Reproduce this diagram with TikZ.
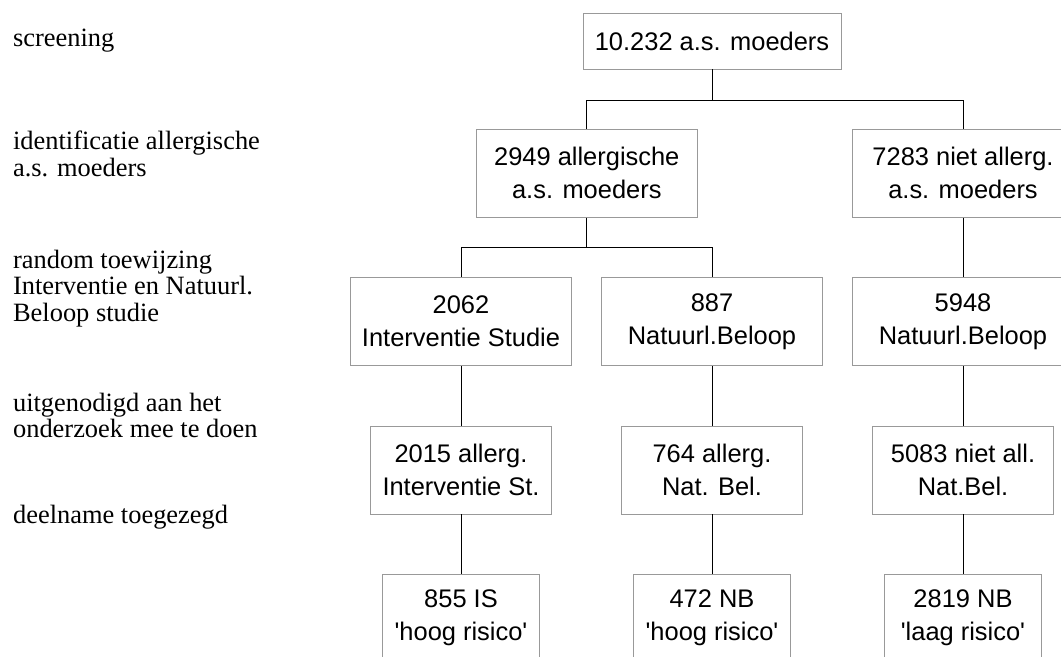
\documentclass[tikz,border=0pt]{standalone}
\usepackage{fontspec}
\setmainfont{Liberation Serif}
\newfontfamily\boxfont{Liberation Sans}
\usepackage{tikz}
\usetikzlibrary{positioning,calc}

\begin{document}
\begin{tikzpicture}[
    box/.style={rectangle, draw=black!40, line width=0.7pt, minimum height=2.2cm, align=center, font=\boxfont\fontsize{18.1}{23.4}\selectfont},
    wide/.style={box, minimum width=5.54cm},
    mid/.style={box, minimum width=4.525cm},
    small/.style={box, minimum width=3.925cm},
    stage/.style={anchor=base west, inner sep=0pt, align=left, font=\fontsize{18.8}{18.8}\selectfont},
    link/.style={line width=0.6pt}
]
\useasboundingbox (0,0) rectangle (26.525,-16.425);
\clip (0,0) rectangle (26.525,-16.425);

% Stages on the left (anchored at the last line)
\node[stage] (S1) at (0.32,-1.15) {screening};
\node[stage] (S2) at (0.32,-4.41) {identificatie allergische\\a.s. moeders};
\node[stage] (S3) at (0.32,-8.03) {random toewijzing\\Interventie en Natuurl.\\Beloop studie};
\node[stage] (S4) at (0.32,-10.94) {uitgenodigd aan het\\onderzoek mee te doen};
\node[stage] (S5) at (0.32,-13.075) {deelname toegezegd};

% Screening
\node[box, minimum width=6.45cm, minimum height=1.4cm] (MOE) at (17.8,-1.025) {10.232 a.s. moeders};

% Identification
\node[wide] (ALL) at (14.67,-4.33) {2949 allergische\\a.s. moeders};
\node[wide] (NAL) at (24.075,-4.33) {7283 niet allerg.\\a.s. moeders};

% Random allocation
\node[wide] (ISG) at (11.525,-8.04) {2062\\Interventie Studie};
\node[wide] (NBA) at (17.8,-8.04) {887\\Natuurl.Beloop};
\node[wide] (NBN) at (24.075,-8.04) {5948\\Natuurl.Beloop};

% Invited
\node[mid] (ISU) at (11.525,-11.75) {2015 allerg.\\Interventie St.};
\node[mid] (NBU) at (17.8,-11.75) {764 allerg.\\Nat. Bel.};
\node[mid] (NNU) at (24.075,-11.75) {5083 niet all.\\Nat.Bel.};

% Participation
\node[small] (ISD) at (11.525,-15.45) {855 IS\\'hoog risico'};
\node[small] (NBD) at (17.8,-15.45) {472 NB\\'hoog risico'};
\node[small] (NND) at (24.075,-15.45) {2819 NB\\'laag risico'};

% Connectors
\coordinate (B1) at (17.8,-2.5);
\coordinate (B2) at (14.67,-6.19);
\draw[link] (MOE) -- (B1) -| (ALL);
\draw[link] (B1) -| (NAL);
\draw[link] (ALL) -- (B2) -| (ISG);
\draw[link] (B2) -| (NBA);
\draw[link] (NAL) -- (NBN);
\draw[link] (ISG) -- (ISU);
\draw[link] (NBA) -- (NBU);
\draw[link] (NBN) -- (NNU);
\draw[link] (ISU) -- (ISD);
\draw[link] (NBU) -- (NBD);
\draw[link] (NNU) -- (NND);
\end{tikzpicture}
\end{document}
